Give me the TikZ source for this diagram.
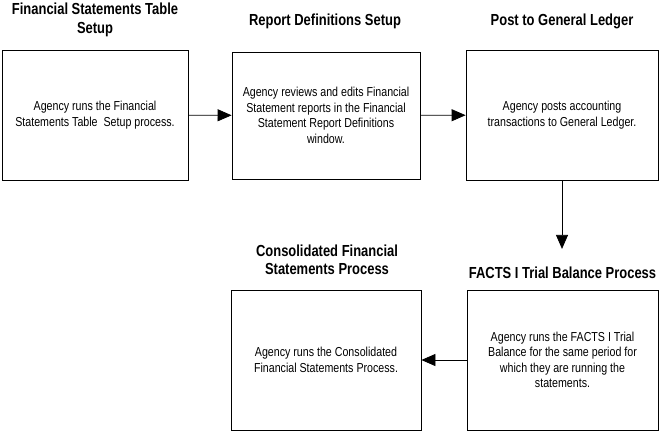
\documentclass[tikz,border=0pt]{standalone}
\usepackage{fontspec}
\setmainfont{Liberation Sans}
\newfontfamily\headfont[FakeStretch=0.81]{Liberation Sans}
\newfontfamily\bodyfont[FakeStretch=0.82]{Liberation Sans}
\usetikzlibrary{arrows.meta}
\usetikzlibrary{positioning}

\begin{document}
\begin{tikzpicture}[x=1pt,y=1pt,
  box/.style={draw,line width=0.8pt,inner sep=0pt,align=center,font=\bodyfont\fontsize{13}{15.5}\selectfont},
  head/.style={inner sep=0pt,align=center,font=\headfont\bfseries\fontsize{16}{18.5}\selectfont},
  arr/.style={line width=0.8pt,-{Triangle[length=14pt,width=12pt]}}]
  \useasboundingbox (0,0) rectangle (660,-432);

  \node[box,minimum width=186pt,minimum height=130pt] (tab) at (95,-115)
    {Agency runs the Financial\\Statements Table\ \ Setup process.};
  \node[box,minimum width=188pt,minimum height=127pt] (rep) at (326,-115.5)
    {Agency reviews and edits Financial\\Statement reports in the Financial\\Statement Report Definitions\\window.};
  \node[box,minimum width=192pt,minimum height=130pt] (gl) at (562,-115)
    {Agency posts accounting\\transactions to General Ledger.};
  \node[box,minimum width=191pt,minimum height=140pt] (fac) at (562.5,-360)
    {Agency runs the FACTS I Trial\\Balance for the same period for\\which they are running the\\statements.};
  \node[box,minimum width=190pt,minimum height=140pt] (con) at (326,-360)
    {Agency runs the Consolidated\\Financial Statements Process.};

  \node[head] (tabh) at (95,-20) {Financial Statements Table\\Setup};
  \node[head] (reph) at (325,-21) {Report Definitions Setup};
  \node[head] (glh) at (562,-21) {Post to General Ledger};
  \node[head] (fach) at (562.5,-273) {FACTS I Trial Balance Process};
  \node[head] (conh) at (327,-260) {Consolidated Financial\\Statements Process};

  \draw[arr](tab)--(rep);
  \draw[arr](rep)--(gl);
  \draw[arr](gl.south)--([yshift=18pt]fach.north-|gl.south);
  \draw[arr](fac)--(con);
\end{tikzpicture}
\end{document}
